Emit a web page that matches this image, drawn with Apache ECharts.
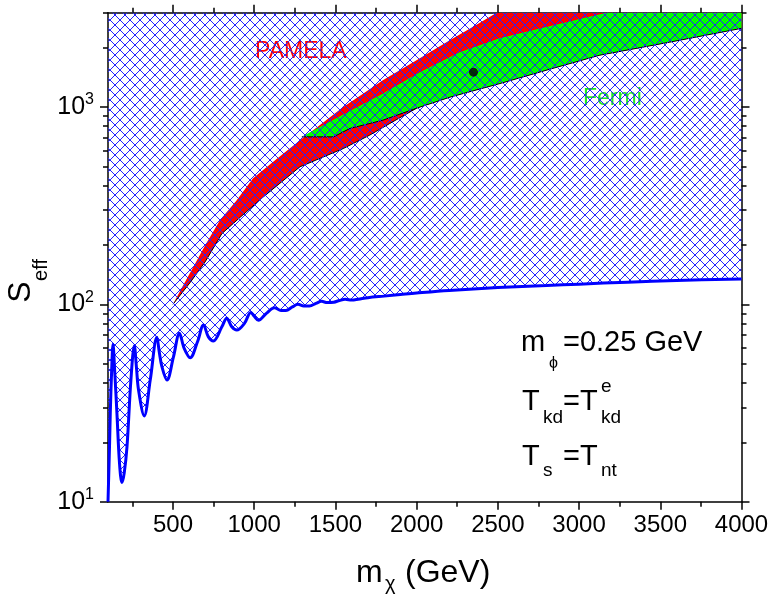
<!DOCTYPE html>
<html><head><meta charset="utf-8">
<script src="https://cdn.jsdelivr.net/npm/echarts@6/dist/echarts.min.js"></script>
<style>html,body{margin:0;padding:0;background:#fff}#c{width:773px;height:594px}</style>
</head><body><div id="c"></div>
<script>
// ---- axes ----
const X_MIN = 100, X_MAX = 4000, Y_MIN = 10, Y_MAX = 3000;
const X_MAJOR = [500, 1000, 1500, 2000, 2500, 3000, 3500, 4000];
const X_MINOR = [250, 750, 1250, 1750, 2250, 2750, 3250, 3750];
const Y_MAJOR = [10, 100, 1000];
const Y_MINOR = [20, 30, 40, 50, 60, 70, 80, 90, 200, 300, 400, 500, 600, 700, 800, 900, 2000, 3000];

// ---- lower boundary of the excluded (hatched) region ----
const BOUND_X = [100, 110, 114, 122, 131, 140, 155, 171, 186, 200, 217, 241, 262, 275, 288, 323, 360, 401, 416, 432, 463, 503, 540, 569, 606, 651, 688, 718, 749, 801, 831, 862, 893, 940, 979, 1000, 1026, 1075, 1125, 1165, 1195, 1235, 1270, 1305, 1340, 1380, 1415, 1450, 1490, 1525, 1560, 1600, 1640, 1700, 1800, 1900, 2000, 2200, 2500, 2800, 3000, 3300, 3600, 4000];
const BOUND_Y = [10, 20, 28, 45, 62.7, 48, 28, 15.6, 12.5, 14, 19, 41.3, 61.7, 48, 36.8, 27.2, 41.3, 68, 57, 48.3, 41.3, 54.2, 71.3, 59.8, 53.6, 64.6, 78.5, 68.4, 65.2, 76.9, 85, 76.9, 74, 80, 91, 87, 83, 90, 96, 93, 93, 97, 100, 98, 98, 101, 103.5, 102, 102.5, 104.5, 106, 105, 106, 108, 110, 112, 114, 117.5, 121.5, 124.5, 126.5, 129.5, 132, 134.5];

// ---- PAMELA region ----
const RED_UPPER_X = [500, 563, 626, 700, 790, 890, 993, 1140, 1282, 1415, 1546, 1670, 1792, 2020, 2204, 2350, 2493];
const RED_UPPER_Y = [100, 125, 155, 200, 267, 335, 435, 546, 678, 822, 995, 1166, 1365, 1766, 2178, 2553, 3000];
const RED_LOWER_X = [500, 606, 698, 801, 914, 1056, 1282, 1548, 1712, 1835, 2000];
const RED_LOWER_Y = [100, 129, 164, 228, 276, 350, 497, 615, 720, 824, 985];

// ---- Fermi region ----
const GREEN_LOWER_X = [1293, 1488, 1590, 1793, 2000, 2205, 2513, 2820, 3128, 3558, 4000];
const GREEN_LOWER_Y = [705, 705, 778, 857, 985, 1120, 1313, 1552, 1828, 2128, 2500];
const GREEN_UPPER_X = [1293, 1528, 1774, 2020, 2265, 2511, 2818, 3167];
const GREEN_UPPER_Y = [705, 897, 1146, 1500, 1892, 2228, 2565, 3000];

// ---- benchmark point ----
const POINT_X = [2350];
const POINT_Y = [1500];

const FONT = '"Liberation Sans", Arial, Helvetica, sans-serif';

function pairs(xs, ys) { return xs.map((x, i) => [x, ys[i]]); }

// crisp crosshatch pattern tile
const TILE = 10;
const pc = document.createElement('canvas');
pc.width = TILE; pc.height = TILE;
const pctx = pc.getContext('2d');
pctx.fillStyle = '#2323ff';
for (let i = 0; i < TILE; i++) {
  pctx.fillRect(i, i, 1, 1);
  pctx.fillRect(TILE - 1 - i, i, 1, 1);
}

const redPoly = pairs(RED_UPPER_X, RED_UPPER_Y)
  .concat([[X_MAX, Y_MAX]])
  .concat(pairs(GREEN_LOWER_X, GREEN_LOWER_Y).filter(p => p[0] > 2000).reverse())
  .concat(pairs(RED_LOWER_X, RED_LOWER_Y).reverse());
const greenPoly = pairs(GREEN_LOWER_X, GREEN_LOWER_Y)
  .concat([[X_MAX, Y_MAX]])
  .concat(pairs(GREEN_UPPER_X, GREEN_UPPER_Y).reverse());

function polyItem(points, style) {
  return function (params, api) {
    return {
      type: 'polygon',
      shape: { points: points.map(p => api.coord(p)) },
      style: style
    };
  };
}
function lineItem(points) {
  return function (params, api) {
    return {
      type: 'polyline',
      shape: { points: points.map(p => api.coord(p)) },
      style: { stroke: '#000', lineWidth: 1, fill: null }
    };
  };
}

const chart = echarts.init(document.getElementById('c'), null, { renderer: 'canvas', devicePixelRatio: 1 });

const axisCommon = { type: 'value', min: X_MIN, max: X_MAX, splitLine: { show: false } };
const yCommon = { type: 'log', logBase: 10, min: Y_MIN, max: Y_MAX, splitLine: { show: false } };
const lineSty = { color: '#000', width: 1.5 };

chart.setOption({
  animation: false,
  backgroundColor: '#fff',
  grid: { left: 108, right: 31.5, top: 12.7, bottom: 92.3, containLabel: false },
  xAxis: [
    Object.assign({}, axisCommon, {
      position: 'bottom',
      axisLine: { show: true, onZero: false, lineStyle: lineSty },
      axisTick: { show: true, customValues: X_MAJOR, length: 8, lineStyle: lineSty },
      axisLabel: { show: true, customValues: X_MAJOR, fontSize: 24, color: '#000', fontFamily: FONT, margin: 12,
        formatter: function (v) { return String(v); } }
    }),
    Object.assign({}, axisCommon, {
      position: 'bottom',
      axisLine: { show: false, onZero: false },
      axisTick: { show: true, customValues: X_MINOR, length: 5, lineStyle: lineSty },
      axisLabel: { show: false }
    }),
    Object.assign({}, axisCommon, {
      position: 'top',
      axisLine: { show: true, onZero: false, lineStyle: lineSty },
      axisTick: { show: true, customValues: X_MAJOR, length: 8, lineStyle: lineSty },
      axisLabel: { show: false }
    }),
    Object.assign({}, axisCommon, {
      position: 'top',
      axisLine: { show: false, onZero: false },
      axisTick: { show: true, customValues: X_MINOR, length: 5, lineStyle: lineSty },
      axisLabel: { show: false }
    })
  ],
  yAxis: [
    Object.assign({}, yCommon, {
      position: 'left',
      axisLine: { show: true, onZero: false, lineStyle: lineSty },
      axisTick: { show: true, customValues: Y_MAJOR, length: 8, lineStyle: lineSty },
      axisLabel: {
        show: true, customValues: Y_MAJOR, margin: 14, color: '#000', fontFamily: FONT,
        formatter: function (v) { return '{b|10}{s|' + Math.round(Math.log10(v)) + '}'; },
        rich: {
          b: { fontSize: 25, lineHeight: 30, fontFamily: FONT, color: '#000' },
          s: { fontSize: 16, lineHeight: 18, verticalAlign: 'top', fontFamily: FONT, color: '#000' }
        }
      }
    }),
    Object.assign({}, yCommon, {
      position: 'left',
      axisLine: { show: false, onZero: false },
      axisTick: { show: true, customValues: Y_MINOR, length: 5, lineStyle: lineSty },
      axisLabel: { show: false }
    }),
    Object.assign({}, yCommon, {
      position: 'right',
      axisLine: { show: true, onZero: false, lineStyle: lineSty },
      axisTick: { show: true, customValues: Y_MAJOR, length: 8, lineStyle: lineSty },
      axisLabel: { show: false }
    }),
    Object.assign({}, yCommon, {
      position: 'right',
      axisLine: { show: false, onZero: false },
      axisTick: { show: true, customValues: Y_MINOR, length: 5, lineStyle: lineSty },
      axisLabel: { show: false }
    })
  ],
  series: [
    { type: 'custom', name: 'PAMELA', z: 1, clip: true, data: [0],
      renderItem: polyItem(redPoly, { fill: '#ff0000', stroke: null }) },
    { type: 'custom', name: 'Fermi', z: 2, clip: true, data: [0],
      renderItem: polyItem(greenPoly, { fill: '#00ff00', stroke: null }) },
    { type: 'custom', name: 'PAMELA edge', z: 3, clip: true, data: [0],
      renderItem: lineItem(pairs(RED_LOWER_X, RED_LOWER_Y)) },
    { type: 'custom', name: 'Fermi edge', z: 3, clip: true, data: [0],
      renderItem: lineItem(pairs(GREEN_LOWER_X, GREEN_LOWER_Y)) },
    { type: 'line', name: 'excluded', z: 4, data: pairs(BOUND_X, BOUND_Y),
      showSymbol: false, symbol: 'none', smooth: 0.35, clip: true,
      lineStyle: { color: '#0000ff', width: 3 },
      areaStyle: { origin: 'end', color: { image: pc, repeat: 'repeat' }, opacity: 1 } },
    { type: 'scatter', name: 'point', z: 5, data: pairs(POINT_X, POINT_Y),
      symbol: 'circle', symbolSize: 9, itemStyle: { color: '#000' } }
  ],
  graphic: [
    { type: 'text', x: 255, y: 52, style: { text: 'PAMELA', font: '23px ' + FONT, fill: '#ff0000', align: 'left', verticalAlign: 'middle' } },
    { type: 'text', x: 583, y: 99, style: { text: 'Fermi', font: '23px ' + FONT, fill: '#1ee81e', align: 'left', verticalAlign: 'middle' } },

    { type: 'text', x: 521, y: 343, style: { text: 'm', font: '29px ' + FONT, fill: '#000', verticalAlign: 'middle' } },
    { type: 'text', x: 549, y: 364, style: { text: 'ϕ', font: '16px ' + FONT, fill: '#000', verticalAlign: 'middle' } },
    { type: 'text', x: 563, y: 343, style: { text: '=0.25 GeV', font: '29px ' + FONT, fill: '#000', verticalAlign: 'middle' } },

    { type: 'text', x: 522, y: 401.5, style: { text: 'T', font: '29px ' + FONT, fill: '#000', verticalAlign: 'middle' } },
    { type: 'text', x: 543, y: 418, style: { text: 'kd', font: '19px ' + FONT, fill: '#000', verticalAlign: 'middle' } },
    { type: 'text', x: 563, y: 401.5, style: { text: '=T', font: '29px ' + FONT, fill: '#000', verticalAlign: 'middle' } },
    { type: 'text', x: 601, y: 387, style: { text: 'e', font: '19px ' + FONT, fill: '#000', verticalAlign: 'middle' } },
    { type: 'text', x: 601, y: 418, style: { text: 'kd', font: '19px ' + FONT, fill: '#000', verticalAlign: 'middle' } },

    { type: 'text', x: 522, y: 456.5, style: { text: 'T', font: '29px ' + FONT, fill: '#000', verticalAlign: 'middle' } },
    { type: 'text', x: 543, y: 471, style: { text: 's', font: '19px ' + FONT, fill: '#000', verticalAlign: 'middle' } },
    { type: 'text', x: 563, y: 456.5, style: { text: '=T', font: '29px ' + FONT, fill: '#000', verticalAlign: 'middle' } },
    { type: 'text', x: 601, y: 471, style: { text: 'nt', font: '19px ' + FONT, fill: '#000', verticalAlign: 'middle' } },

    { type: 'text', x: 356, y: 573, style: { text: 'm', font: '32px ' + FONT, fill: '#000', verticalAlign: 'middle' } },
    { type: 'text', x: 385, y: 584, style: { text: 'χ', font: '20px ' + FONT, fill: '#000', verticalAlign: 'middle' } },
    { type: 'text', x: 405, y: 573, style: { text: '(GeV)', font: '32px ' + FONT, fill: '#000', verticalAlign: 'middle' } },

    { type: 'text', x: 21.5, y: 292, rotation: Math.PI / 2, style: { text: 'S', font: '32px ' + FONT, fill: '#000', align: 'center', verticalAlign: 'middle' } },
    { type: 'text', x: 41.5, y: 270, rotation: Math.PI / 2, style: { text: 'eff', font: '20px ' + FONT, fill: '#000', align: 'center', verticalAlign: 'middle' } }
  ]
});
</script>
</body></html>
